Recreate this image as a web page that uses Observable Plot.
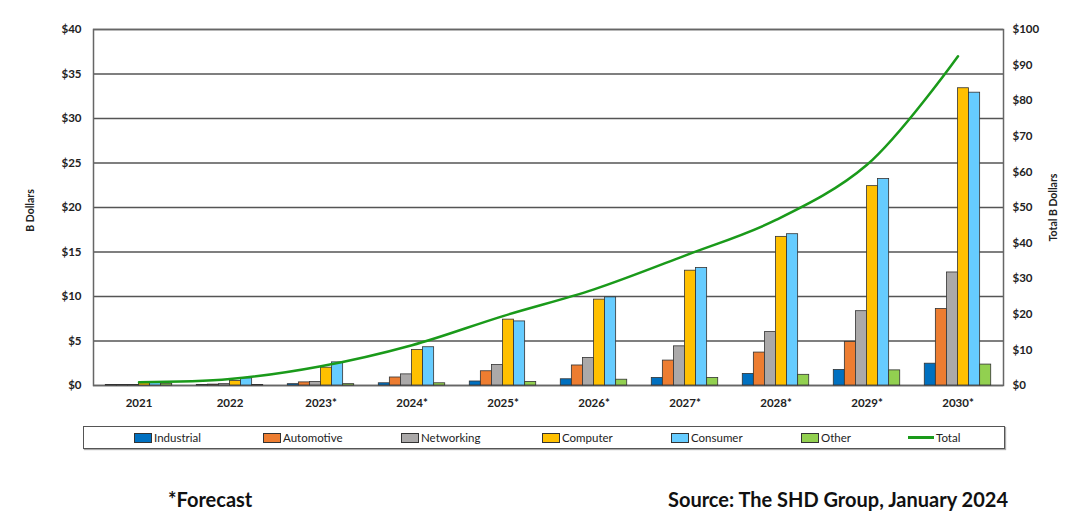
<!DOCTYPE html>
<html><head><meta charset="utf-8">
<script src="https://cdn.jsdelivr.net/npm/d3@7"></script>
<script src="https://cdn.jsdelivr.net/npm/@observablehq/plot@0.6"></script>
<style>
body{margin:0;background:#fff;font-family:Lato,"Open Sans",sans-serif;}
#wrap{position:relative;width:1080px;height:525px;overflow:hidden;}
#chart{position:absolute;left:0;top:0;}
#legend{position:absolute;left:83px;top:426px;width:920px;height:21px;border:1px solid #555;box-shadow:1px 1px 1px #aaa;}
.li{position:absolute;top:4px;font-size:11.5px;color:#222;display:flex;align-items:center;white-space:nowrap;}
.sw{width:16px;height:8px;border:1px solid #333;margin-right:2px;}
.ln{width:26px;height:3px;margin-right:2px;}
.note{position:absolute;top:487px;font-size:20px;font-weight:bold;color:#111;}
</style></head>
<body>
<div id="wrap">
<div id="chart"></div>
<div id="legend"></div>
<div class="note" style="left:168px;">*Forecast</div>
<div class="note" style="right:72px;">Source: The SHD Group, January 2024</div>
</div>
<script>
const years = ["2021","2022","2023*","2024*","2025*","2026*","2027*","2028*","2029*","2030*"];
const seriesNames = ["Industrial","Automotive","Networking","Computer","Consumer","Other"];
const seriesColors = ["#0070C0","#ED7D31","#ABA9A9","#FFC000","#66CCFF","#92D050"];
const industrial = [0.05,0.05,0.15,0.25,0.45,0.7,0.85,1.3,1.75,2.45];
const automotive = [0.05,0.1,0.35,0.9,1.6,2.25,2.8,3.7,4.9,8.6];
const networking = [0.05,0.15,0.4,1.25,2.3,3.1,4.4,6.0,8.35,12.7];
const computer   = [0.25,0.5,2.0,4.0,7.4,9.65,12.9,16.7,22.4,33.4];
const consumer   = [0.3,0.8,2.6,4.3,7.2,9.9,13.2,17.0,23.2,32.9];
const other      = [0.2,0.05,0.15,0.25,0.4,0.65,0.85,1.2,1.7,2.35];
const total      = [0.9,1.8,5.4,11.3,19.5,27.0,36.5,46.5,62.0,92.5];
const leftTicks = [0,5,10,15,20,25,30,35,40];
const rightTicks = [0,10,20,30,40,50,60,70,80,90,100];

const seriesValues = [industrial, automotive, networking, computer, consumer, other];
const bars = [];
years.forEach((y, i) => seriesNames.forEach((s, k) => bars.push({i, year: y, series: s, k, value: seriesValues[k][i]})));
const totals = years.map((y, i) => ({i, year: y, total: total[i]}));

const groupFrac = 0.73;
const w = groupFrac / seriesNames.length;
const ratio = 40 / 100; // right axis -> left axis units

const font = {fontSize: 11.5, fontWeight: "bold", fill: "#222"};

const chart = Plot.plot({
  width: 1080, height: 415,
  marginLeft: 93, marginRight: 77, marginTop: 29, marginBottom: 30,
  style: {fontFamily: "Lato, 'Open Sans', sans-serif", background: "#fff"},
  x: {domain: [-0.5, 9.5]},
  y: {domain: [0, 40]},
  color: {domain: seriesNames, range: seriesColors},
  marks: [
    Plot.gridY(leftTicks, {stroke: "#555", strokeOpacity: 1, strokeWidth: 1.3}),
    Plot.frame({stroke: "#666", strokeWidth: 1.5}),
    Plot.rect(bars, {
      x1: d => d.i + (d.k - 3) * w, x2: d => d.i + (d.k - 2) * w,
      y1: 0, y2: "value", fill: "series", stroke: "#333", strokeWidth: 0.8
    }),
    Plot.line(totals, {x: "i", y: d => d.total * ratio, stroke: "#1A9A1A", strokeWidth: 2.5, curve: "catmull-rom"}),
    Plot.axisY(leftTicks, {tickFormat: d => "$" + d, tickSize: 0, tickPadding: 12, label: null, ...font}),
    Plot.axisY(rightTicks.map(d => d * ratio), {anchor: "right", tickFormat: d => "$" + Math.round(d / ratio), tickSize: 0, tickPadding: 9, label: null, ...font}),
    Plot.axisX(d3.range(years.length), {tickFormat: i => years[i], tickSize: 0, tickPadding: 13, label: null, ...font}),
    Plot.text(["B Dollars"], {frameAnchor: "left", textAnchor: "middle", dx: -63, dy: 3, rotate: -90, fontSize: 10.5, fontWeight: "bold", fill: "#222"}),
    Plot.text(["Total B Dollars"], {frameAnchor: "right", textAnchor: "middle", dx: 50, rotate: -90, fontSize: 10.5, fontWeight: "bold", fill: "#222"})
  ]
});
document.getElementById("chart").appendChild(chart);

const legendX = [50, 179, 317, 458, 587, 717];
const lg = document.getElementById("legend");
seriesNames.forEach((s, k) => {
  const el = document.createElement("div");
  el.className = "li"; el.style.left = legendX[k] + "px";
  el.innerHTML = `<span class="sw" style="background:${seriesColors[k]}"></span>${s}`;
  lg.appendChild(el);
});
const tl = document.createElement("div");
tl.className = "li"; tl.style.left = "824px";
tl.innerHTML = `<span class="ln" style="background:#1A9A1A"></span>Total`;
lg.appendChild(tl);
</script>
</body></html>
